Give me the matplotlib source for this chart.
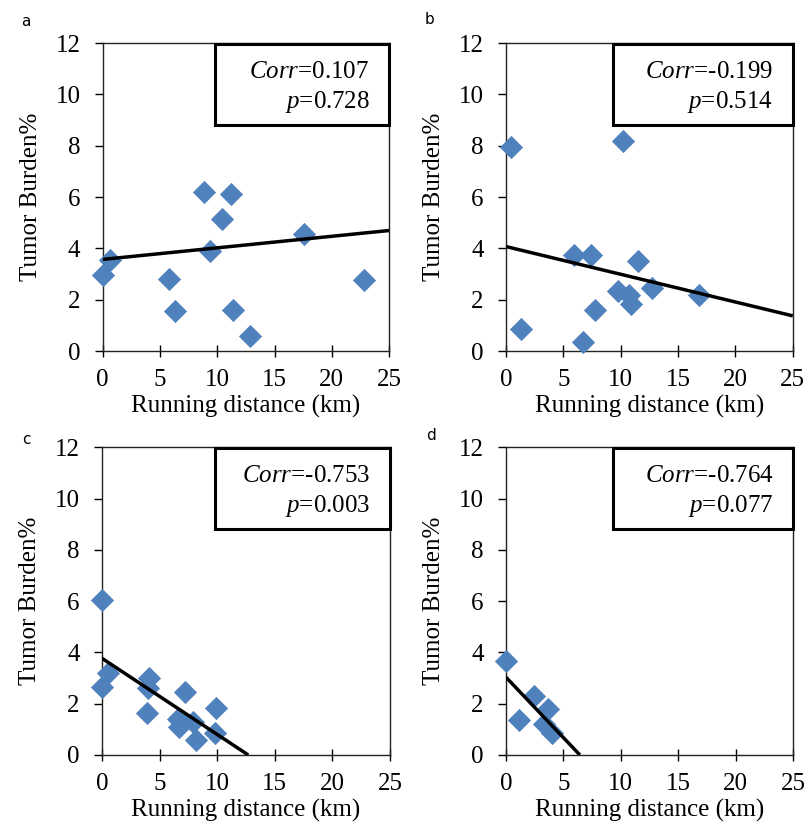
import numpy as np
import matplotlib
matplotlib.use('Agg')
import matplotlib.pyplot as plt
from matplotlib.patches import Rectangle

plt.rcParams['font.family'] = 'Liberation Serif'
plt.rcParams['mathtext.fontset'] = 'custom'
plt.rcParams['mathtext.rm'] = 'Liberation Serif'
plt.rcParams['mathtext.it'] = 'Liberation Serif:italic'

# running distance (km) / tumor burden (%) per panel
xa = [0, 0.6, 5.8, 6.3, 8.8, 9.4, 10.4, 11.2, 11.4, 12.9, 17.6, 22.8]
ya = [2.95, 3.55, 2.8, 1.55, 6.2, 3.9, 5.15, 6.1, 1.6, 0.6, 4.55, 2.75]

xb = [0.4, 1.3, 5.9, 6.7, 7.4, 7.8, 9.8, 10.2, 10.7, 10.9, 11.5, 12.7, 16.8]
yb = [7.95, 0.85, 3.75, 0.35, 3.75, 1.6, 2.35, 8.2, 2.2, 1.85, 3.5, 2.45, 2.2]

xc = [0, 0, 0.5, 4.1, 4.0, 3.9, 7.2, 6.6, 6.7, 7.9, 8.2, 9.8, 9.9]
yc = [6.05, 2.65, 3.2, 3.0, 2.6, 1.65, 2.45, 1.4, 1.1, 1.3, 0.6, 0.85, 1.85]

xd = [0, 1.1, 2.4, 3.7, 3.3, 4.0]
yd = [3.65, 1.35, 2.3, 1.8, 1.2, 0.85]

# trend lines: intercept, slope
trend = [(3.57, 0.045), (4.07, -0.108), (3.77, -0.297), (3.03, -0.471)]
corr = ['0.107', '-0.199', '-0.753', '-0.764']
pval = ['0.728', '0.514', '0.003', '0.077']
letters = ['a', 'b', 'c', 'd']

xs = [xa, xb, xc, xd]
ys = [ya, yb, yc, yd]

fig = plt.figure(figsize=(8.05, 8.31), dpi=100)
pos = [[0.1276, 0.5776, 0.3557, 0.3706],
       [0.6286, 0.5776, 0.3562, 0.3706],
       [0.1267, 0.0915, 0.3578, 0.3703],
       [0.6286, 0.0915, 0.3565, 0.3703]]
boxx = [0.392, 0.374, 0.392, 0.374]
lab_xy = [(26, 22), (429, 20), (26, 439), (431, 436)]

for i in range(4):
    ax = fig.add_axes(pos[i])
    ax.scatter(xs[i], ys[i], marker='D', s=140, color='#4F81BD',
               linewidths=0, clip_on=False, zorder=3)
    b0, m = trend[i]
    xend = 25 if b0 + m * 25 >= 0 else -b0 / m
    xx = np.array([0, xend])
    ax.plot(xx, b0 + m * xx, color='black', lw=2.5, zorder=4,
            solid_capstyle='butt')
    ax.set_xlim(0, 25)
    ax.set_ylim(0, 12)
    ax.set_xticks(range(0, 26, 5))
    ax.set_yticks(range(0, 13, 2))
    ax.tick_params(axis='x', direction='inout', length=8, width=1,
                   labelsize=18, pad=9)
    ax.tick_params(axis='y', direction='out', length=6, width=1,
                   labelsize=18, pad=10)
    for s in ax.spines.values():
        s.set_linewidth(1)
        s.set_color('#222222')
    ax.set_xlabel('Running distance (km)', fontsize=18, labelpad=3)
    ax.set_ylabel('Tumor Burden%', fontsize=18, labelpad=10)
    ax.add_patch(Rectangle((boxx[i], 0.735), 1 - boxx[i], 0.263,
                           transform=ax.transAxes, fill=False,
                           lw=2.2, ec='black', zorder=5, clip_on=False))
    ax.text(0.932, 0.907, r'$\mathit{Corr}$=' + corr[i], transform=ax.transAxes,
            ha='right', va='center', fontsize=18)
    ax.text(0.932, 0.810, r'$\mathit{p}$=' + pval[i], transform=ax.transAxes,
            ha='right', va='center', fontsize=18)
    fig.text(lab_xy[i][0] / 805, 1 - lab_xy[i][1] / 831, letters[i],
             family='DejaVu Sans', fontsize=11, ha='center', va='center')

fig.savefig('out.png', dpi=100)
